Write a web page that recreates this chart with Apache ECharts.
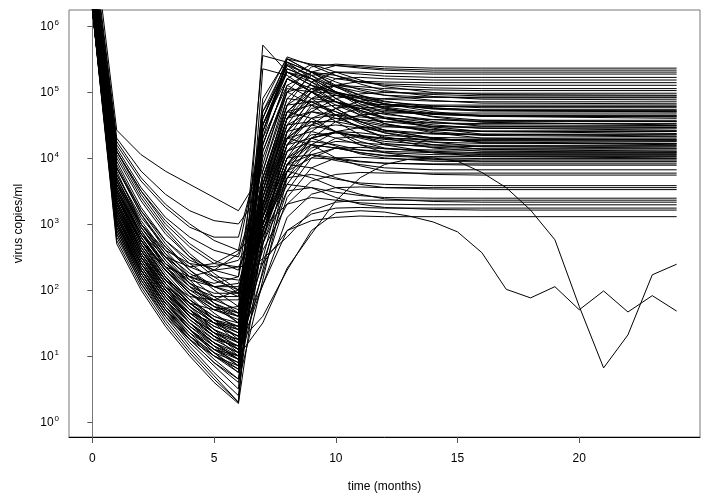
<!DOCTYPE html>
<html>
<head>
<meta charset="utf-8">
<script src="https://cdn.jsdelivr.net/npm/echarts@6/dist/echarts.min.js"></script>
<style>
  html, body { margin: 0; padding: 0; background: #fff; }
  #chart { width: 713px; height: 498px; }
</style>
</head>
<body>
<div id="chart"></div>
<script>
// Time points (months) for each patient row below; after month 16 the curve is flat to month 24
const months = [0, 1, 2, 3, 4, 5, 6, 7, 8, 9, 10, 11, 12, 14, 16, 24];
const monthsFull = [0,1,2,3,4,5,6,7,8,9,10,11,12,13,14,15,16,17,18,19,20,21,22,23,24];
const xTicks = [0, 5, 10, 15, 20];
const yTicks = [1, 10, 100, 1000, 10000, 100000, 1000000];

// log10(virus copies/ml) per patient at the months above (null = no measurement)
const patients = [
  [7.5,4.42,4.05,3.8,3.6,3.4,3.2, 3.8,5.0,5.38,5.42,5.4,5.38,5.36,5.36,5.36],
  [7.3,4.3,3.8,3.45,3.2,3.05,3.0, 3.5,4.8,5.3,5.4,5.38,5.35,5.33,5.33,5.33],
  [7.2,4.2,3.65,3.25,2.95,2.8,2.8, 4.2,5.2,5.42,5.4,5.36,5.33,5.3,5.3,5.3],
  [7.1,4.1,3.5,3.05,2.7,2.45,2.3, 3.3,4.6,5.15,5.3,5.3,5.28,5.27,5.27,5.27],
  [7.0,4.05,3.4,2.9,2.5,2.2,1.95, 3.6,4.9,5.25,5.3,5.27,5.24,5.22,5.22,5.22],
  [6.95,3.95,3.25,2.75,2.4,2.15,2.0, null,4.5,5.0,5.2,5.22,5.2,5.18,5.18,5.18],
  [6.9,3.9,3.2,2.7,2.3,2.0,1.75, 3.2,4.4,4.9,5.1,5.16,5.15,5.14,5.14,5.14],
  [6.85,3.85,3.15,2.6,2.2,1.9,1.65, 5.55,5.45,5.3,5.2,5.15,5.12,5.1,5.1,5.1],
  [6.8,3.8,3.0,2.5,2.2,2.1,2.2, 3.9,5.1,5.3,5.25,5.15,5.1,5.06,5.05,5.05],
  [6.8,3.75,3.05,2.55,2.15,1.8,1.5, 3.4,4.6,5.0,5.1,5.08,5.05,5.03,5.02,5.02],
  [6.75,3.7,2.95,2.45,2.05,1.75,1.5, null,4.2,4.7,4.9,4.97,4.99,4.98,4.98,4.98],
  [6.7,3.65,2.9,2.35,1.95,1.65,1.4, 4.6,5.5,5.42,5.3,5.18,5.08,4.99,4.96,4.95],
  [6.7,3.6,2.85,2.35,2.05,1.9,1.9, 3.0,4.0,4.5,4.75,4.86,4.9,4.92,4.92,4.92],
  [6.65,3.55,2.8,2.3,1.9,1.55,1.25, 4.8,5.53,5.4,5.25,5.12,5.02,4.93,4.89,4.88],
  [6.6,3.5,2.75,2.2,1.8,1.5,1.2, 3.6,4.7,5.0,4.98,4.93,4.89,4.86,4.85,4.85],
  [6.6,3.5,2.85,2.5,2.35,2.4,2.6, 4.4,5.45,5.3,5.15,5.03,4.95,4.87,4.83,4.82],
  [6.55,3.45,2.7,2.15,1.75,1.4,1.1, 3.1,4.2,4.6,4.75,4.8,4.81,4.8,4.8,4.8],
  [6.55,3.4,2.65,2.1,1.7,1.35,1.05, null,3.9,4.4,4.65,4.75,4.78,4.78,4.78,4.78],
  [6.5,3.4,2.75,2.35,2.2,2.3,2.55, 3.7,4.8,5.05,5.0,4.92,4.85,4.79,4.76,4.76],
  [6.5,3.35,2.6,2.05,1.6,1.3,1.0, 5.71,5.3,5.1,4.95,4.85,4.8,4.75,4.73,4.73],
  [6.45,3.3,2.55,2.0,1.6,1.3,1.1, 4.5,5.4,5.25,5.07,4.95,4.86,4.76,4.72,4.70],
  [6.45,3.3,2.6,2.15,1.9,1.85,2.0, 2.9,3.8,4.3,4.55,4.65,4.68,4.68,4.68,4.68],
  [6.4,3.25,2.5,1.95,1.5,1.15,0.85, 3.5,4.6,4.85,4.85,4.78,4.72,4.67,4.65,4.65],
  [6.4,3.2,2.45,1.9,1.5,1.2,0.95, null,4.4,4.9,4.95,4.85,4.75,4.66,4.63,4.63],
  [6.4,3.2,2.5,2.05,1.8,1.7,1.75, 4.7,5.3,5.15,4.98,4.86,4.77,4.68,4.64,4.62],
  [6.35,3.15,2.4,1.85,1.4,1.05,0.75, 4.3,5.5,5.3,5.1,4.95,4.82,4.7,4.63,4.60],
  [6.35,3.1,2.35,1.8,1.4,1.1,0.85, 3.3,4.3,4.6,4.65,4.62,4.6,4.58,4.57,4.57],
  [6.3,3.1,2.4,1.95,1.65,1.5,1.45, 4.5,5.35,5.2,5.0,4.85,4.74,4.63,4.57,4.55],
  [6.3,3.05,2.3,1.75,1.3,0.95,0.65, 3.0,4.1,4.5,4.6,4.58,4.55,4.53,4.52,4.52],
  [6.3,3.0,2.3,1.8,1.45,1.2,1.05, 4.9,5.5,5.3,5.08,4.9,4.76,4.62,4.54,4.50],
  [6.25,3.0,2.25,1.7,1.25,0.9,0.6, null,3.7,4.2,4.4,4.46,4.47,4.47,4.47,4.47],
  [6.25,2.95,2.2,1.65,1.2,0.85,0.5, 5.35,5.25,5.0,4.8,4.65,4.55,4.48,4.45,4.45],
  [6.25,2.9,2.2,1.7,1.35,1.1,0.95, 4.2,5.2,5.05,4.85,4.7,4.6,4.5,4.45,4.42],
  [6.25,2.9,2.15,1.6,1.15,0.75,0.4, 3.4,4.5,4.7,4.65,4.55,4.48,4.42,4.4,4.4],
  [6.25,2.85,2.1,1.55,1.1,0.7,0.3, 4.6,5.4,5.15,4.9,4.72,4.6,4.47,4.4,4.37],
  [6.25,2.8,2.1,1.6,1.25,1.0,0.85, 3.2,4.2,4.45,4.5,4.45,4.4,4.36,4.35,4.35],
  [6.25,2.75,2.05,1.5,1.05,0.65,0.3, 4.4,5.3,5.1,4.85,4.65,4.52,4.4,4.34,4.32],
  [6.25,2.7,2.0,1.45,1.0,0.6,0.28, 2.8,3.9,4.3,4.4,4.38,4.34,4.31,4.3,4.3],
  [6.4,3.6,3.0,2.6,2.4,2.35,2.45, null,3.6,4.1,4.3,4.32,4.3,4.28,4.28,4.28],
  [6.9,4.0,3.35,2.85,2.5,2.3,2.2, 4.7,5.45,5.2,4.9,4.68,4.52,4.38,4.3,4.27],
  [7.0,4.15,3.55,3.1,2.8,2.6,2.5, 3.6,4.6,4.7,4.6,4.48,4.38,4.29,4.26,4.25],
  [6.75,3.7,3.0,2.5,2.1,1.8,1.6, 3.1,4.1,4.35,4.38,4.33,4.28,4.24,4.22,4.22],
  [6.6,3.55,2.85,2.35,2.0,1.75,1.6, 4.5,5.2,5.0,4.75,4.55,4.42,4.3,4.23,4.20],
  [6.5,3.45,2.7,2.2,1.85,1.6,1.5, 2.9,3.8,4.15,4.25,4.23,4.2,4.18,4.17,4.17],
  [6.45,3.35,2.65,2.15,1.8,1.55,1.4, 3.7,4.8,4.85,4.7,4.52,4.38,4.24,4.17,4.15],
  [6.4,3.25,2.55,2.05,1.7,1.45,1.3, null,3.5,4.0,4.15,4.16,4.14,4.12,4.12,4.12],
  [6.35,3.15,2.45,1.95,1.6,1.35,1.2, 4.3,5.1,4.9,4.65,4.45,4.32,4.2,4.13,4.10],
  [6.3,3.05,2.35,1.85,1.5,1.25,1.15, 3.3,4.3,4.4,4.3,4.2,4.14,4.1,4.08,4.08],
  [6.25,2.95,2.25,1.75,1.4,1.15,1.0, 2.7,3.7,4.05,4.15,4.12,4.1,4.08,4.07,4.07],
  [6.7,3.65,2.95,2.45,2.1,1.85,1.7, 3.5,4.5,4.55,4.4,4.25,4.15,4.08,4.05,4.05],
  [6.55,3.45,2.75,2.3,2.0,1.85,1.85, 3.0,4.0,4.2,4.15,4.08,4.04,4.02,4.02,4.02],
  [6.45,3.3,2.6,2.1,1.75,1.5,1.35, 4.1,5.0,4.8,4.55,4.35,4.2,4.08,4.02,4.00],
  [6.35,3.2,2.5,2.0,1.6,1.3,1.1, null,3.4,3.85,4.0,4.01,3.99,3.97,3.97,3.97],
  [6.3,3.1,2.4,1.9,1.5,1.2,0.95, 3.2,4.2,4.3,4.18,4.06,4.0,3.95,3.94,3.94],
  [6.25,3.0,2.3,1.75,1.35,1.0,0.75, 2.8,3.8,4.0,3.98,3.94,3.92,3.91,3.91,3.91],
  [6.85,3.85,3.2,2.75,2.45,2.3,2.35, 3.0,4.0,4.05,3.96,3.9,3.85,3.82,3.82,3.82],
  [7.2,4.25,3.7,3.3,3.0,2.75,2.6, null,3.3,3.65,3.75,3.78,3.77,3.77,3.77,3.77],
  [6.6,3.5,2.8,2.3,1.95,1.7,1.55, 3.3,4.3,4.2,4.0,3.88,3.8,3.75,3.74,3.74],
  [6.5,3.4,2.7,2.2,1.8,1.5,1.3, 2.9,3.7,3.75,3.68,3.62,3.6,3.58,3.58,3.58],
  [6.4,3.25,2.5,1.95,1.55,1.25,1.05, null,3.1,3.45,3.55,3.56,3.55,3.55,3.55,3.55],
  [6.3,3.05,2.3,1.8,1.4,1.1,0.9, 3.1,3.9,3.85,3.7,3.6,3.55,3.53,3.52,3.52],
  [6.25,2.85,2.15,1.65,1.3,1.05,0.9, 2.7,3.5,3.55,3.48,3.43,3.4,3.39,3.39,3.39],
  [6.8,3.75,3.1,2.65,2.35,2.2,2.15, null,2.8,3.2,3.33,3.36,3.36,3.36,3.36,3.36],
  [6.65,3.6,2.9,2.4,2.05,1.8,1.65, 3.0,3.8,3.7,3.55,3.45,3.38,3.34,3.33,3.33],
  [6.5,3.35,2.65,2.15,1.8,1.55,1.45, 2.6,3.3,3.4,3.36,3.32,3.3,3.29,3.29,3.29],
  [6.4,3.2,2.5,2.0,1.65,1.4,1.25, null,2.9,3.15,3.24,3.25,3.24,3.24,3.24,3.24],
  [6.35,3.1,2.4,1.9,1.55,1.3,1.15, 2.8,3.6,3.55,3.4,3.3,3.25,3.22,3.21,3.21],
  [7.05,4.1,3.5,3.0,2.65,2.4,2.35, 2.4,2.9,3.05,3.1,3.12,3.11,3.11,3.11,3.11],
  [6.6,3.5,2.8,2.3,1.95,1.7,1.6, 4.0,5.0,5.1,5.0,4.9,4.82,4.75,4.72,4.72],
  [6.45,3.3,2.55,2.05,1.7,1.45,1.3, 3.4,4.6,4.9,4.85,4.75,4.66,4.58,4.55,4.55],
  [6.75,3.7,3.0,2.55,2.25,2.05,1.95, null,4.3,4.8,4.95,4.9,4.82,4.74,4.71,4.70],
  [6.35,3.15,2.4,1.9,1.5,1.2,1.0, 4.4,5.35,5.2,5.0,4.82,4.68,4.55,4.48,4.46],
  [6.3,3.05,2.3,1.8,1.4,1.05,0.8, 3.6,4.7,4.8,4.7,4.58,4.5,4.43,4.41,4.41],
  [6.55,3.45,2.75,2.3,1.95,1.75,1.65, 3.2,4.3,4.55,4.55,4.48,4.42,4.37,4.36,4.36],
  [6.85,3.85,3.15,2.65,2.3,2.05,1.9, 4.6,5.42,5.25,5.0,4.78,4.6,4.45,4.36,4.33],
  [6.4,3.25,2.55,2.05,1.65,1.35,1.15, 3.0,4.0,4.3,4.38,4.34,4.3,4.27,4.26,4.26],
  [6.5,3.4,2.7,2.2,1.85,1.6,1.45, 4.2,5.2,5.0,4.75,4.55,4.42,4.3,4.24,4.22],
  [6.3,3.0,2.25,1.7,1.3,1.0,0.8, null,3.8,4.3,4.4,4.32,4.25,4.2,4.19,4.19],
  [6.65,3.55,2.85,2.4,2.1,1.95,1.95, 3.4,4.4,4.5,4.4,4.3,4.22,4.16,4.14,4.14],
  [6.45,3.35,2.6,2.1,1.75,1.5,1.4, 3.8,4.9,4.85,4.65,4.45,4.3,4.15,4.1,4.09],
  [6.25,2.95,2.2,1.65,1.25,0.9,0.65, 3.1,4.1,4.25,4.2,4.12,4.08,4.05,4.04,4.04],
  [6.7,3.65,2.95,2.5,2.2,2.05,2.05, null,3.9,4.2,4.15,4.08,4.03,4.0,3.99,3.99],
  [6.35,3.15,2.45,1.95,1.6,1.35,1.25, 3.7,4.7,4.6,4.4,4.2,4.08,3.98,3.95,3.95],
  [6.55,3.45,2.75,2.25,1.85,1.55,1.35, 2.9,3.9,4.05,4.0,3.95,3.92,3.9,3.89,3.89],
  [6.3,3.1,2.35,1.85,1.45,1.15,0.95, 4.5,5.3,5.2,5.08,5.0,4.95,4.92,4.91,4.91],
  [7.0,4.1,3.45,2.95,2.55,2.25,2.0, 3.5,4.7,5.05,5.1,5.05,5.0,4.96,4.94,4.94],
  [6.6,3.5,2.85,2.4,2.15,2.05,2.1, 3.3,4.4,4.75,4.8,4.75,4.7,4.66,4.64,4.64],
  [6.4,3.2,2.5,2.0,1.6,1.3,1.1, 4.1,5.05,5.0,4.85,4.72,4.62,4.53,4.5,4.49]
];

// two patients measured every month up to month 24 (log10 copies/ml)
const patientA = [6.4,3.3,2.6,2.1,1.7,1.4,1.2,1.6,2.3,2.9,3.17,3.2,3.18,3.12,3.03,2.88,2.565,2.01,1.88,2.05,1.70,1.985,1.667,1.914,1.68];
const patientB = [6.3,3.0,2.3,1.8,1.4,1.1,1.0,1.5,2.33,2.85,3.35,3.7,3.9,3.98,4.0,3.95,3.78,3.55,3.21,2.76,1.75,0.82,1.32,2.23,2.39];

const FONT = 'Liberation Sans, Arial, sans-serif';

function toSeries(times, row) {
  const data = [];
  times.forEach((t, i) => { if (row[i] !== null) data.push([t, Math.pow(10, row[i])]); });
  return {
    type: 'line', data: data, symbol: 'none', silent: true, animation: false,
    lineStyle: { color: '#000', width: 1 }, clip: true
  };
}

const series = patients.map(r => toSeries(months, r));
series.push(toSeries(monthsFull, patientA));
series.push(toSeries(monthsFull, patientB));

const chart = echarts.init(document.getElementById('chart'), null, { renderer: 'canvas' });
chart.setOption({
  animation: false,
  backgroundColor: '#fff',
  grid: { left: 69, right: 13, top: 10, bottom: 61, show: true, borderColor: '#777', borderWidth: 1, containLabel: false },
  xAxis: {
    type: 'value', min: -0.96, max: 24.96,
    name: 'time (months)', nameLocation: 'middle', nameGap: 44,
    nameTextStyle: { fontFamily: FONT, fontSize: 12, color: '#000' },
    axisLine: { show: true, lineStyle: { color: '#000', width: 1 } },
    axisTick: { show: true, inside: false, length: 6, customValues: xTicks, lineStyle: { color: '#555' } },
    axisLabel: { customValues: xTicks, margin: 16, fontFamily: FONT, fontSize: 12, color: '#000' },
    splitLine: { show: false }
  },
  yAxis: {
    type: 'log', logBase: 10, min: 0.593, max: 1.74e6,
    name: 'virus copies/ml', nameLocation: 'middle', nameGap: 44,
    nameTextStyle: { fontFamily: FONT, fontSize: 12, color: '#000' },
    axisLine: { show: true, lineStyle: { color: '#777', width: 1 } },
    axisTick: { show: true, inside: false, length: 5, customValues: yTicks, lineStyle: { color: '#555' } },
    axisLabel: {
      customValues: yTicks, margin: 10, color: '#000',
      formatter: function (v) {
        const l = Math.log10(v); const e = Math.round(l);
        if (Math.abs(l - e) > 1e-6) return '';
        return '{b|10}{e|' + e + '}';
      },
      rich: {
        b: { fontFamily: FONT, fontSize: 12, color: '#000', lineHeight: 14, verticalAlign: 'bottom' },
        e: { fontFamily: FONT, fontSize: 8, color: '#000', lineHeight: 14, verticalAlign: 'top', padding: [0, 0, 0, 1] }
      }
    },
    splitLine: { show: false }
  },
  series: series
});
</script>
</body>
</html>
